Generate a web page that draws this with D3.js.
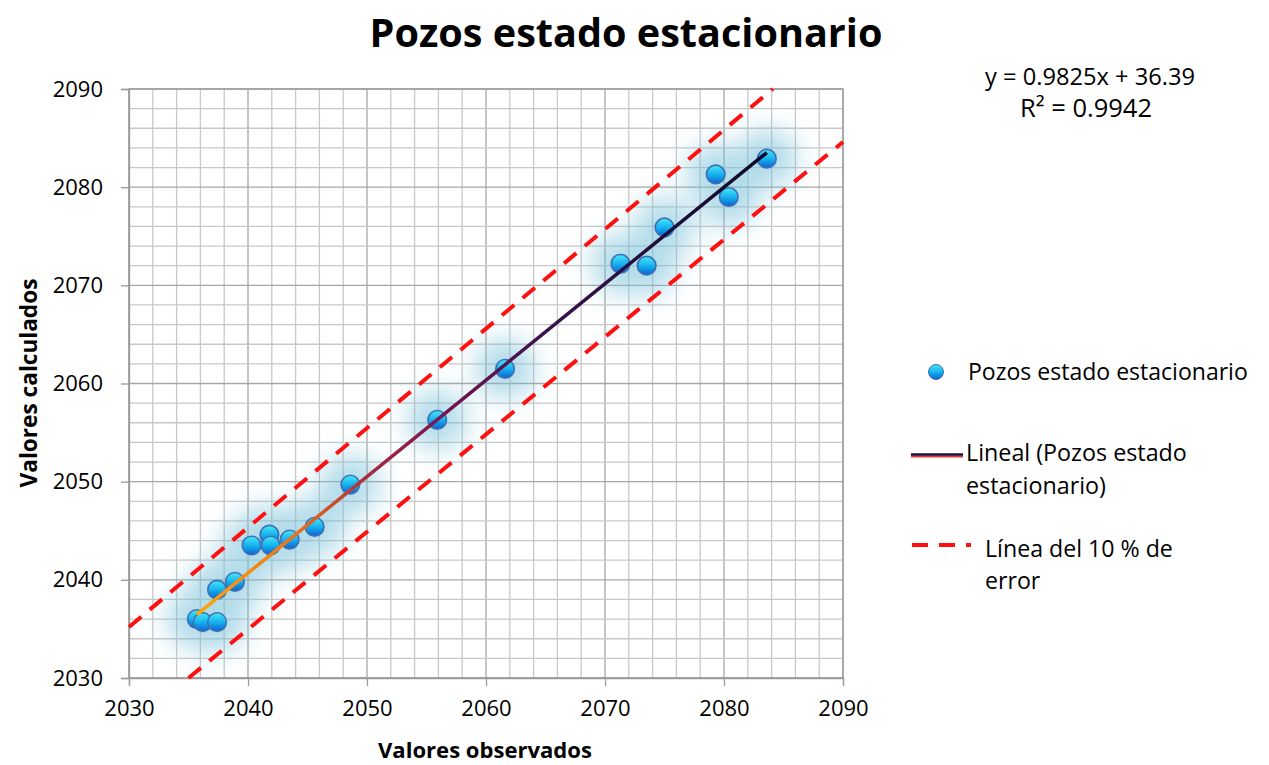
<!DOCTYPE html>
<html>
<head>
<meta charset="utf-8">
<script src="https://cdn.jsdelivr.net/npm/d3@7"></script>
<style>
html,body{margin:0;padding:0;background:#fff;}
svg{display:block;}
text{font-family:"Open Sans","Liberation Sans",sans-serif;fill:#000;}
</style>
</head>
<body>
<svg id="chart" width="1269" height="765"></svg>
<script>
// ---- data ----
const observed = [2035.7,2036.2,2037.4,2037.4,2038.9,2040.3,2041.8,2041.9,2043.5,2045.6,2048.6,2055.9,2061.6,2071.3,2073.5,2075.0,2079.3,2080.4,2083.6];
const calculated = [2036.0,2035.7,2035.7,2039.0,2039.8,2043.5,2044.6,2043.5,2044.1,2045.4,2049.7,2056.3,2061.5,2072.2,2072.0,2075.9,2081.3,2079.0,2082.9];
const trendSlope = 0.9825, trendIntercept = 36.39;
const trendRange = [2035.7, 2083.6];
const upperErrX = [2030, 2084.1], upperErrY = [2035.2, 2090];
const lowerErrX = [2035, 2090], lowerErrY = [2030, 2084.6];
const majorTicks = [2030,2040,2050,2060,2070,2080,2090];
const minorTicks = d3.range(2030, 2091, 2);
const titleText = "Pozos estado estacionario";
const xTitle = "Valores observados";
const yTitle = "Valores calculados";
const eqText = "y = 0.9825x + 36.39";
const r2Text = "R\u00B2 = 0.9942";
const legendLabels = ["Pozos estado estacionario", ["Lineal (Pozos estado","estacionario)"], ["L\u00EDnea del 10 % de","error"]];

// ---- drawing ----
const svg = d3.select("#chart");
const x = d3.scaleLinear().domain([2030,2090]).range([129,843]);
const y = d3.scaleLinear().domain([2030,2090]).range([678,89]);

const defs = svg.append("defs");
const blur = defs.append("filter").attr("id","glow").attr("x","-60%").attr("y","-60%").attr("width","220%").attr("height","220%");
blur.append("feGaussianBlur").attr("stdDeviation",13);
const mg = defs.append("linearGradient").attr("id","markerGrad").attr("x1",0).attr("y1",0).attr("x2",0).attr("y2",1);
mg.append("stop").attr("offset","0%").attr("stop-color","#46e8f8");
mg.append("stop").attr("offset","50%").attr("stop-color","#17b2ee");
mg.append("stop").attr("offset","100%").attr("stop-color","#0a62d2");
const tg = defs.append("linearGradient").attr("id","trendGrad").attr("gradientUnits","userSpaceOnUse")
  .attr("x1",x(trendRange[0])).attr("y1",y(trendSlope*trendRange[0]+trendIntercept))
  .attr("x2",x(trendRange[1])).attr("y2",y(trendSlope*trendRange[1]+trendIntercept));
[["0%","#ffa80a"],["18%","#e8701a"],["30%","#a82a40"],["42%","#7a1650"],["62%","#38124e"],["100%","#0a0a28"]]
  .forEach(s=>tg.append("stop").attr("offset",s[0]).attr("stop-color",s[1]));

// grid
const grid = svg.append("g");
grid.selectAll("line.vx").data(minorTicks).join("line")
  .attr("x1",d=>x(d)).attr("x2",d=>x(d)).attr("y1",y(2090)).attr("y2",y(2030))
  .attr("stroke",d=>d%10===0?"#a6a6a6":"#c8c8c8").attr("stroke-width",1.3);
grid.selectAll("line.hy").data(minorTicks).join("line")
  .attr("y1",d=>y(d)).attr("y2",d=>y(d)).attr("x1",x(2030)).attr("x2",x(2090))
  .attr("stroke",d=>d%10===0?"#a6a6a6":"#c8c8c8").attr("stroke-width",1.3);
svg.append("rect").attr("x",x(2030)).attr("y",y(2090)).attr("width",x(2090)-x(2030)).attr("height",y(2030)-y(2090))
  .attr("fill","none").attr("stroke","#9a9a9a").attr("stroke-width",1.3);

// axes
const xAxis = svg.append("g").attr("transform",`translate(0,${y(2030)})`)
  .call(d3.axisBottom(x).tickValues(majorTicks).tickSize(8).tickPadding(14).tickFormat(d3.format("d")));
const yAxis = svg.append("g").attr("transform",`translate(${x(2030)},0)`)
  .call(d3.axisLeft(y).tickValues(majorTicks).tickSize(8).tickPadding(18).tickFormat(d3.format("d")));
[xAxis,yAxis].forEach(a=>{
  a.select(".domain").attr("stroke","#9a9a9a").attr("stroke-width",1.3);
  a.selectAll(".tick line").attr("stroke","#9a9a9a").attr("stroke-width",1.3);
  a.selectAll(".tick text").style("font-family",'"Open Sans",sans-serif').style("font-size","22px").attr("fill","#222");
});

// glow
svg.append("g").attr("filter","url(#glow)").attr("opacity",0.55)
  .selectAll("circle").data(observed).join("circle")
  .attr("cx",(d,i)=>x(d)).attr("cy",(d,i)=>y(calculated[i])).attr("r",30).attr("fill","#74bfd8");

// error lines
const lineGen = d3.line().x(d=>x(d[0])).y(d=>y(d[1]));
svg.append("path").attr("d",lineGen(upperErrX.map((v,i)=>[v,upperErrY[i]])))
  .attr("stroke","#ff1010").attr("stroke-width",4).attr("stroke-dasharray","16,11").attr("fill","none");
svg.append("path").attr("d",lineGen(lowerErrX.map((v,i)=>[v,lowerErrY[i]])))
  .attr("stroke","#ff1010").attr("stroke-width",4).attr("stroke-dasharray","16,11").attr("fill","none");

// markers
svg.append("g").selectAll("circle").data(observed).join("circle")
  .attr("cx",d=>x(d)).attr("cy",(d,i)=>y(calculated[i])).attr("r",9.3)
  .attr("fill","url(#markerGrad)").attr("stroke","#3f6fb4").attr("stroke-width",1.6);

// trendline
svg.append("path").attr("d",lineGen(trendRange.map(v=>[v,trendSlope*v+trendIntercept])))
  .attr("stroke","url(#trendGrad)").attr("stroke-width",3.5).attr("fill","none");

// helper: fit text to width
function fit(t, w){
  const n = t.node(); const fs = parseFloat(t.style("font-size"));
  const len = n.getComputedTextLength();
  t.style("font-size",(fs*w/len)+"px");
  return t;
}

// titles
fit(svg.append("text").attr("x",626).attr("y",47).attr("text-anchor","middle")
  .style("font-weight","bold").style("font-size","38px").text(titleText), 513);
fit(svg.append("text").attr("x",485).attr("y",758).attr("text-anchor","middle")
  .style("font-weight","bold").style("font-size","18px").text(xTitle), 214);
fit(svg.append("text").attr("transform","translate(37,383) rotate(-90)").attr("text-anchor","middle")
  .style("font-weight","bold").style("font-size","18px").text(yTitle), 209);

// equation
fit(svg.append("text").attr("x",1090).attr("y",85).attr("text-anchor","middle").style("font-size","20px").text(eqText), 210);
fit(svg.append("text").attr("x",1086).attr("y",117).attr("text-anchor","middle").style("font-size","20px").text(r2Text), 132);

// legend
svg.append("circle").attr("cx",936).attr("cy",372).attr("r",7.5).attr("fill","url(#markerGrad)").attr("stroke","#3f6fb4").attr("stroke-width",1);
fit(svg.append("text").attr("x",968).attr("y",380).style("font-size","20px").text(legendLabels[0]), 280);
svg.append("line").attr("x1",911).attr("x2",963).attr("y1",456.5).attr("y2",456.5).attr("stroke","#e03a2a").attr("stroke-width",2);
svg.append("line").attr("x1",911).attr("x2",963).attr("y1",454.5).attr("y2",454.5).attr("stroke","#1a1040").attr("stroke-width",2.5);
const l2a = fit(svg.append("text").attr("x",966).attr("y",461).style("font-size","20px").text(legendLabels[1][0]), 221);
svg.append("text").attr("x",966).attr("y",494).style("font-size",l2a.style("font-size")).text(legendLabels[1][1]);
svg.append("line").attr("x1",912).attr("x2",971).attr("y1",545).attr("y2",545)
  .attr("stroke","#ff1010").attr("stroke-width",4).attr("stroke-dasharray","16,11");
const l3a = fit(svg.append("text").attr("x",985).attr("y",557).style("font-size","20px").text(legendLabels[2][0]), 188);
svg.append("text").attr("x",985).attr("y",589).style("font-size",l3a.style("font-size")).text(legendLabels[2][1]);
</script>
</body>
</html>
